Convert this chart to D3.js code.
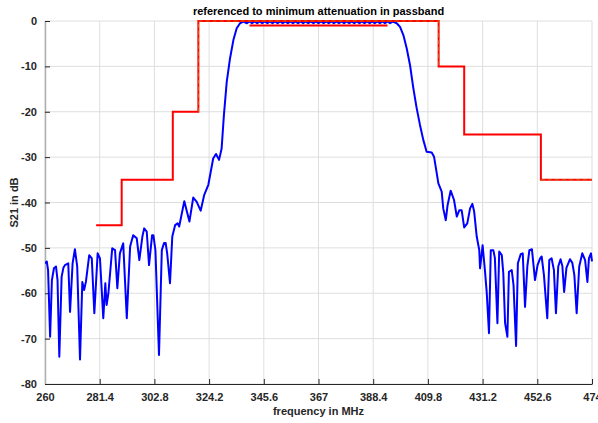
<!DOCTYPE html>
<html>
<head>
<meta charset="utf-8">
<script src="https://cdn.jsdelivr.net/npm/d3@7"></script>
<style>
  html, body { margin: 0; padding: 0; background: #fff; }
  svg { display: block; font-family: "Liberation Sans", Arial, sans-serif; }
</style>
</head>
<body>
<svg id="chart" width="598" height="423"></svg>
<script>
// ---- data ----
const title = "referenced to minimum attenuation in passband";
const xLabel = "frequency in MHz";
const yLabel = "S21 in dB";
const xTicks = [260, 281.4, 302.8, 324.2, 345.6, 367, 388.4, 409.8, 431.2, 452.6, 474];
const yTicks = [0, -10, -20, -30, -40, -50, -60, -70, -80];

const freq = [
  260.0,260.7,261.2,262.0,262.7,263.5,264.3,264.9,265.6,266.5,267.2,267.8,269.1,269.8,270.8,271.7,272.6,273.7,274.6,275.3,
  276.0,277.3,278.3,279.3,280.6,281.5,282.8,283.6,284.1,284.8,286.3,287.4,288.3,289.3,290.6,292.0,293.3,294.5,295.9,296.9,
  298.1,298.8,299.8,300.7,301.9,302.4,303.2,304.6,305.7,306.6,307.2,307.8,308.9,309.8,310.9,311.9,312.5,314.5,316.5,318.0,
  319.3,320.9,322.3,323.9,325.8,326.9,328.1,329.1,330.0,331.1,332.4,333.7,335.0,336.3,337.6,
  339,340,341,342,343,344,345,346,347,348,349,350,351,352,353,354,355,356,357,358,359,360,361,362,363,364,365,366,367,368,
  369,370,371,372,373,374,375,376,377,378,379,380,381,382,383,384,385,386,387,388,389,390,391,392,393,394,395,396,
  397.6,398.9,400.2,401.5,402.8,404.1,405.4,406.7,408.0,409.3,411.3,412.2,413.9,415.2,415.8,416.8,417.5,418.7,420.0,421.1,
  422.1,423.0,424.0,425.2,426.3,427.2,427.9,428.9,429.9,430.2,430.8,431.2,432.1,432.8,433.7,434.4,435.4,436.0,437.0,437.7,
  438.7,439.3,440.0,440.9,441.5,442.6,443.3,444.3,445.0,446.1,446.9,447.8,448.7,449.5,450.5,451.7,452.7,453.7,454.3,455.2,
  456.5,457.3,458.2,459.1,459.9,460.8,461.7,462.4,463.1,464.0,465.4,466.3,467.1,468.0,469.0,470.2,471.3,472.2,472.8,473.6,474.0
];
const s21 = [
  -53.4,-53.0,-54.9,-69.6,-57.1,-54.5,-54.1,-57.1,-74.0,-56.4,-54.4,-53.8,-53.4,-64.1,-53.4,-50.3,-54.1,-74.6,-57.5,-59.3,
  -57.5,-51.6,-52.3,-64.4,-51.2,-52.3,-65.5,-57.8,-62.6,-60.0,-50.1,-50.5,-58.9,-51.2,-49.0,-65.5,-49.7,-47.2,-47.9,-52.7,
  -47.5,-45.7,-46.4,-53.8,-47.2,-47.2,-50.5,-73.6,-50.5,-48.9,-48.9,-51.2,-57.8,-47.5,-45.0,-44.6,-45.3,-39.7,-44.2,-38.9,
  -39.8,-41.8,-38.3,-36.1,-30.3,-29.3,-30.6,-28.1,-20.7,-13.4,-8.2,-4.2,-1.6,-0.5,-0.15,
  -0.5,-0.1,-0.5,-0.1,-0.5,-0.1,-0.5,-0.1,-0.5,-0.1,-0.5,-0.1,-0.5,-0.1,-0.5,-0.1,-0.5,-0.1,-0.5,-0.1,-0.5,-0.1,-0.5,-0.1,-0.5,-0.1,-0.5,-0.1,-0.5,-0.1,
  -0.5,-0.1,-0.5,-0.1,-0.5,-0.1,-0.5,-0.1,-0.5,-0.1,-0.5,-0.1,-0.5,-0.1,-0.5,-0.1,-0.5,-0.1,-0.5,-0.1,-0.5,-0.1,-0.5,-0.1,-0.5,-0.1,-0.5,-0.15,
  -0.5,-1.3,-3.1,-6.0,-9.7,-14.8,-19.2,-22.9,-26.2,-28.8,-29.0,-29.9,-35.8,-37.6,-41.3,-43.9,-40.6,-37.4,-39.4,-43.1,
  -41.7,-41.7,-45.5,-44.6,-41.3,-40.3,-42.0,-47.5,-50.5,-54.5,-51.6,-49.4,-54.9,-59.7,-68.8,-50.5,-50.5,-52.2,-66.6,-50.8,
  -51.6,-55.6,-66.6,-69.6,-55.3,-54.9,-58.2,-71.6,-53.4,-51.4,-51.2,-63.0,-54.1,-50.5,-50.3,-57.1,-53.8,-52.3,-51.9,-56.0,
  -65.5,-52.7,-52.3,-54.9,-64.4,-54.1,-52.5,-54.0,-59.7,-54.4,-52.5,-53.3,-56.0,-64.4,-54.1,-51.2,-52.7,-57.5,-52.3,-51.2,-53.0
];

// stopband mask (red step line)
const maskFreq = [280, 290, 290, 310, 310, 320, 320, 414, 414, 424, 424, 454, 454, 474];
const maskDb   = [-45, -45, -35, -35, -20, -20,   0,   0, -10, -10, -25, -25, -35, -35];
// dashed overlay segments of the mask
const overFreqA = [320, 320, 414, 414];
const overDbA   = [-20,   0,   0, -10];
const overFreqB = [454, 474];
const overDbB   = [-35, -35];
// passband spec line
const passFreq = [340, 394];
const passDb   = [-1, -1];

// ---- layout ----
const svg = d3.select("#chart");
const L = 45, R = 592, T = 21, B = 384;
const x = d3.scaleLinear().domain([260, 474]).range([L, R]);
const y = d3.scaleLinear().domain([-80, 0]).range([B, T]);
const txt = "#262626";

// grid
const g = svg.append("g");
g.selectAll(".gx").data(xTicks).enter().append("line")
  .attr("x1", d => x(d)).attr("x2", d => x(d)).attr("y1", T).attr("y2", B)
  .attr("stroke", "#dedede").attr("stroke-width", 1);
g.selectAll(".gy").data(yTicks).enter().append("line")
  .attr("x1", L).attr("x2", R).attr("y1", d => y(d)).attr("y2", d => y(d))
  .attr("stroke", "#dedede").attr("stroke-width", 1);

// axes
const xAxis = d3.axisBottom(x).tickValues(xTicks).tickSizeInner(-5).tickSizeOuter(0)
  .tickPadding(9).tickFormat(d => String(d));
const yAxis = d3.axisLeft(y).tickValues(yTicks).tickSizeInner(-5).tickSizeOuter(0)
  .tickPadding(8).tickFormat(d => String(d));

const gx = svg.append("g").attr("transform", `translate(0,${B})`).call(xAxis);
gx.select(".domain").attr("stroke", txt).attr("stroke-width", 1);
gx.selectAll(".tick line").attr("stroke", txt);
gx.selectAll("text").attr("fill", txt).attr("font-size", 11).attr("font-weight", "bold");

const gy = svg.append("g").attr("transform", `translate(${L},0)`).call(yAxis);
gy.select(".domain").attr("stroke", "#b0b0b0").attr("stroke-width", 1.5);
gy.selectAll(".tick line").attr("stroke", txt);
gy.selectAll("text").attr("fill", txt).attr("font-size", 11).attr("font-weight", "bold");

// clip
svg.append("clipPath").attr("id", "clip").append("rect")
  .attr("x", L).attr("y", T - 2).attr("width", R - L + 1).attr("height", B - T + 2);

const line = d3.line().x(d => x(d[0])).y(d => y(d[1]));
const plot = svg.append("g").attr("clip-path", "url(#clip)");

// blue measured curve
plot.append("path")
  .datum(freq.map((f, i) => [f, s21[i]]))
  .attr("d", line)
  .attr("fill", "none").attr("stroke", "#0000ff").attr("stroke-width", 2)
  .attr("stroke-linejoin", "round");

// red mask
plot.append("path")
  .datum(maskFreq.map((f, i) => [f, maskDb[i]]))
  .attr("d", line)
  .attr("fill", "none").attr("stroke", "#ff0000").attr("stroke-width", 2);

// dashed overlays
[[overFreqA, overDbA], [overFreqB, overDbB]].forEach(([fs, ds]) => {
  plot.append("path")
    .datum(fs.map((f, i) => [f, ds[i]]))
    .attr("d", line)
    .attr("fill", "none").attr("stroke", "#c07a10").attr("stroke-width", 1)
    .attr("stroke-dasharray", "4,3").attr("opacity", 0.8);
});

// passband spec line
plot.append("path")
  .datum(passFreq.map((f, i) => [f, passDb[i]]))
  .attr("d", line)
  .attr("fill", "none").attr("stroke", "#ff0000").attr("stroke-width", 2);

// title & labels
svg.append("text").attr("x", (L + R) / 2).attr("y", 15).attr("text-anchor", "middle")
  .attr("font-size", 11).attr("font-weight", "bold").attr("fill", "#000").text(title);
svg.append("text").attr("x", (L + R) / 2).attr("y", 415).attr("text-anchor", "middle")
  .attr("font-size", 11).attr("font-weight", "bold").attr("fill", txt).text(xLabel);
svg.append("text").attr("transform", `translate(18,${(T + B) / 2}) rotate(-90)`)
  .attr("text-anchor", "middle")
  .attr("font-size", 11).attr("font-weight", "bold").attr("fill", txt).text(yLabel);
</script>
</body>
</html>
